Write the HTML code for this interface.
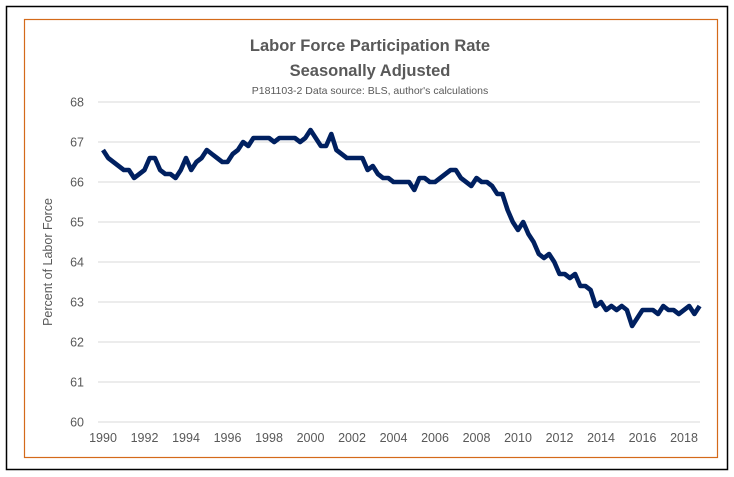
<!DOCTYPE html>
<html><head><meta charset="utf-8">
<style>
html,body{margin:0;padding:0;background:#fff;}
svg{display:block;font-family:"Liberation Sans",sans-serif;}
</style></head>
<body>
<svg id="chart" width="734" height="477" viewBox="0 0 734 477">
  <rect x="6.5" y="6.5" width="721" height="463" fill="#fff" stroke="#000" stroke-width="1.5"/>
  <rect x="24.5" y="19.5" width="693" height="438" fill="#fff" stroke="#d46a1a" stroke-width="1.2"/>
  <text x="370" y="51" text-anchor="middle" font-size="16.5" font-weight="bold" fill="#595959">Labor Force Participation Rate</text>
  <text x="370" y="76" text-anchor="middle" font-size="16.5" font-weight="bold" fill="#595959">Seasonally Adjusted</text>
  <text x="370" y="94" text-anchor="middle" font-size="10.5" fill="#595959">P181103-2 Data source: BLS, author's calculations</text>
  <text transform="translate(52,262) rotate(-90)" text-anchor="middle" font-size="12.5" fill="#595959">Percent of Labor Force</text>
  <g id="grid"></g>
  <g id="yticks"></g>
  <g id="xticks"></g>
  <g id="series"></g>
</svg>
<script>
const yTicks = [60,61,62,63,64,65,66,67,68];
const xTicks = [1990,1992,1994,1996,1998,2000,2002,2004,2006,2008,2010,2012,2014,2016,2018];
const startYear = 1990;
const stepYears = 0.25;
const lfpr = [
66.8,66.6,66.5,66.4, 66.3,66.3,66.1,66.2, 66.3,66.6,66.6,66.3, 66.2,66.2,66.1,66.3,
66.6,66.3,66.5,66.6, 66.8,66.7,66.6,66.5, 66.5,66.7,66.8,67.0, 66.9,67.1,67.1,67.1,
67.1,67.0,67.1,67.1, 67.1,67.1,67.0,67.1, 67.3,67.1,66.9,66.9, 67.2,66.8,66.7,66.6,
66.6,66.6,66.6,66.3, 66.4,66.2,66.1,66.1, 66.0,66.0,66.0,66.0, 65.8,66.1,66.1,66.0,
66.0,66.1,66.2,66.3, 66.3,66.1,66.0,65.9, 66.1,66.0,66.0,65.9, 65.7,65.7,65.3,65.0,
64.8,65.0,64.7,64.5, 64.2,64.1,64.2,64.0, 63.7,63.7,63.6,63.7, 63.4,63.4,63.3,62.9,
63.0,62.8,62.9,62.8, 62.9,62.8,62.4,62.6, 62.8,62.8,62.8,62.7, 62.9,62.8,62.8,62.7,
62.8,62.9,62.7,62.9
];
const NS = "http://www.w3.org/2000/svg";
const X0=103, PXY=20.75, Y0=422, PXU=40;
function xs(v){return X0+(v-1990)*PXY;}
function ys(v){return Y0-(v-60)*PXU;}
const grid=document.getElementById('grid'), yt=document.getElementById('yticks'), xt=document.getElementById('xticks'), ser=document.getElementById('series');
yTicks.forEach(t=>{
  const l=document.createElementNS(NS,'line');
  l.setAttribute('x1',98);l.setAttribute('x2',700);l.setAttribute('y1',ys(t));l.setAttribute('y2',ys(t));
  l.setAttribute('stroke','#d9d9d9');l.setAttribute('stroke-width','1');
  
  
  grid.appendChild(l);
  const tx=document.createElementNS(NS,'text');
  tx.setAttribute('x',84);tx.setAttribute('y',ys(t)+4.5);tx.setAttribute('text-anchor','end');
  tx.setAttribute('font-size','12.5');tx.setAttribute('fill','#595959');tx.textContent=t;
  
  
  yt.appendChild(tx);
});
xTicks.forEach(t=>{
  const tx=document.createElementNS(NS,'text');
  tx.setAttribute('x',xs(t));tx.setAttribute('y',442);tx.setAttribute('text-anchor','middle');
  tx.setAttribute('font-size','12.5');tx.setAttribute('fill','#595959');tx.textContent=t;
  
  
  xt.appendChild(tx);
});
const pts=lfpr.map((v,i)=>xs(startYear+i*stepYears).toFixed(1)+','+ys(v).toFixed(1)).join(' ');
const pl=document.createElementNS(NS,'polyline');
pl.setAttribute('points',pts);pl.setAttribute('fill','none');pl.setAttribute('stroke','#002060');
pl.setAttribute('stroke-width','4.6');pl.setAttribute('stroke-linejoin','round');


ser.appendChild(pl);
</script>
</body></html>
